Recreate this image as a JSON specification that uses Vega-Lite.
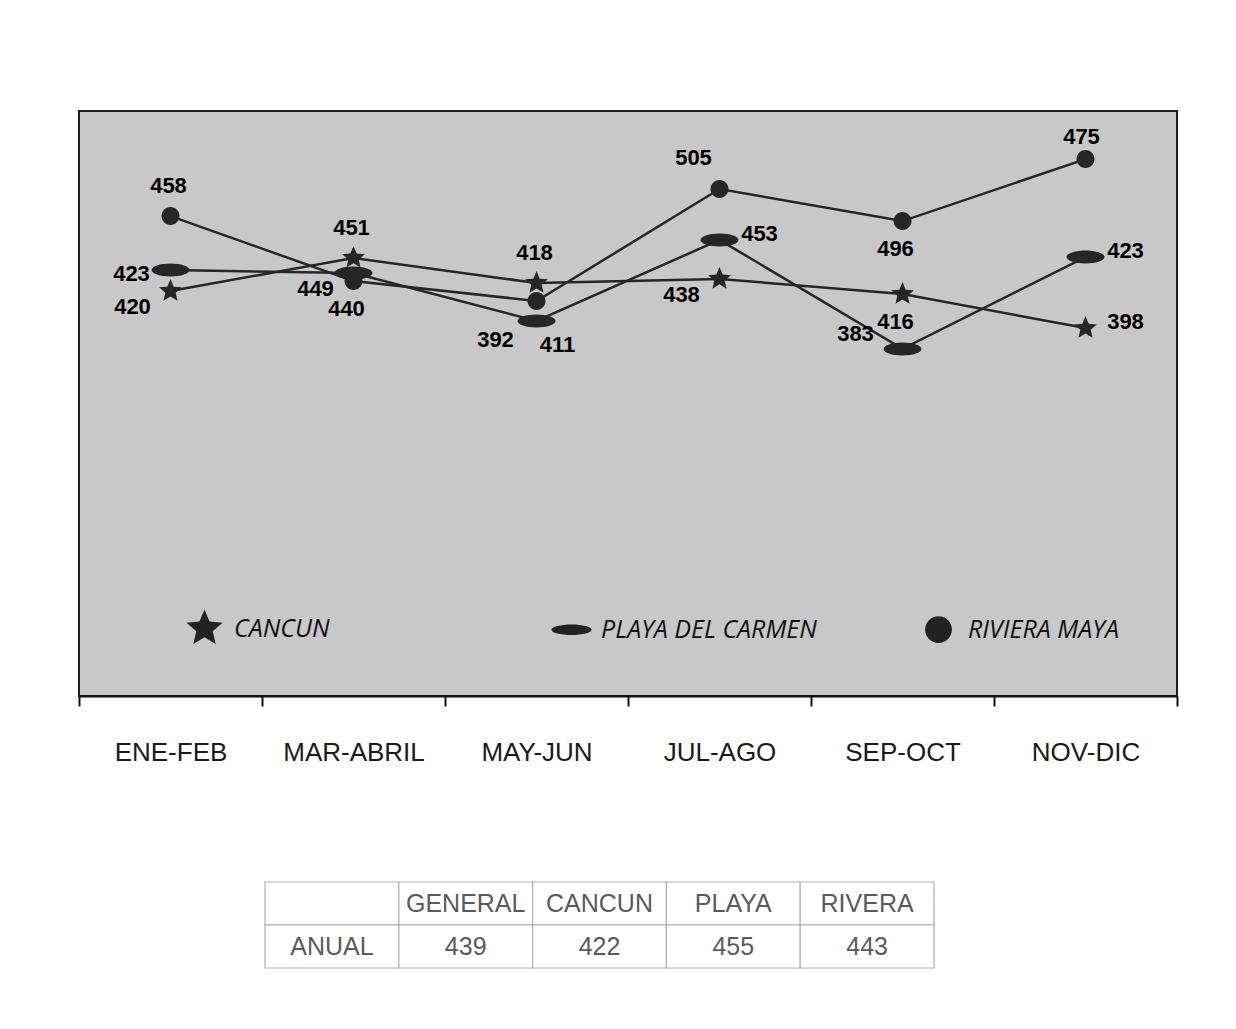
{
  "$schema": "https://vega.github.io/schema/vega-lite/v6.json",
  "background": "white",
  "padding": {"left": 77, "top": 110, "right": 10, "bottom": 10},
  "datasets": {
    "puntos": [
      {"periodo": "ENE-FEB", "orden": 1, "serie": "CANCUN", "valor": 436.9, "etiqueta": "420", "pos": "SW"},
      {"periodo": "MAR-ABRIL", "orden": 2, "serie": "CANCUN", "valor": 452.2, "etiqueta": "451", "pos": "N"},
      {"periodo": "MAY-JUN", "orden": 3, "serie": "CANCUN", "valor": 440.6, "etiqueta": "418", "pos": "N"},
      {"periodo": "JUL-AGO", "orden": 4, "serie": "CANCUN", "valor": 442.5, "etiqueta": "438", "pos": "SW"},
      {"periodo": "SEP-OCT", "orden": 5, "serie": "CANCUN", "valor": 435.5, "etiqueta": "416", "pos": "S"},
      {"periodo": "NOV-DIC", "orden": 6, "serie": "CANCUN", "valor": 419.8, "etiqueta": "398", "pos": "E"},
      {"periodo": "ENE-FEB", "orden": 1, "serie": "PLAYA DEL CARMEN", "valor": 446.6, "etiqueta": "423", "pos": "W"},
      {"periodo": "MAR-ABRIL", "orden": 2, "serie": "PLAYA DEL CARMEN", "valor": 445.2, "etiqueta": "449", "pos": "SW"},
      {"periodo": "MAY-JUN", "orden": 3, "serie": "PLAYA DEL CARMEN", "valor": 423.1, "etiqueta": "411", "pos": "SE"},
      {"periodo": "JUL-AGO", "orden": 4, "serie": "PLAYA DEL CARMEN", "valor": 460.5, "etiqueta": "453", "pos": "E"},
      {"periodo": "SEP-OCT", "orden": 5, "serie": "PLAYA DEL CARMEN", "valor": 410.2, "etiqueta": "383", "pos": "WNW"},
      {"periodo": "NOV-DIC", "orden": 6, "serie": "PLAYA DEL CARMEN", "valor": 452.6, "etiqueta": "423", "pos": "E"},
      {"periodo": "ENE-FEB", "orden": 1, "serie": "RIVIERA MAYA", "valor": 471.5, "etiqueta": "458", "pos": "N"},
      {"periodo": "MAR-ABRIL", "orden": 2, "serie": "RIVIERA MAYA", "valor": 441.5, "etiqueta": "440", "pos": "S"},
      {"periodo": "MAY-JUN", "orden": 3, "serie": "RIVIERA MAYA", "valor": 432.3, "etiqueta": "392", "pos": "SSW"},
      {"periodo": "JUL-AGO", "orden": 4, "serie": "RIVIERA MAYA", "valor": 484.0, "etiqueta": "505", "pos": "NW"},
      {"periodo": "SEP-OCT", "orden": 5, "serie": "RIVIERA MAYA", "valor": 469.2, "etiqueta": "496", "pos": "S"},
      {"periodo": "NOV-DIC", "orden": 6, "serie": "RIVIERA MAYA", "valor": 497.8, "etiqueta": "475", "pos": "NN"}
    ],
    "tabla": [
      {"fila": "encabezado", "col": "fila", "texto": ""},
      {"fila": "encabezado", "col": "GENERAL", "texto": "GENERAL"},
      {"fila": "encabezado", "col": "CANCUN", "texto": "CANCUN"},
      {"fila": "encabezado", "col": "PLAYA", "texto": "PLAYA"},
      {"fila": "encabezado", "col": "RIVERA", "texto": "RIVERA"},
      {"fila": "ANUAL", "col": "fila", "texto": "ANUAL"},
      {"fila": "ANUAL", "col": "GENERAL", "texto": "439"},
      {"fila": "ANUAL", "col": "CANCUN", "texto": "422"},
      {"fila": "ANUAL", "col": "PLAYA", "texto": "455"},
      {"fila": "ANUAL", "col": "RIVERA", "texto": "443"}
    ]
  },
  "spacing": 115,
  "vconcat": [
    {
      "width": 1098,
      "height": 585,
      "view": {"fill": "#c8c8c8", "stroke": "#1e1e1e", "strokeWidth": 2},
      "data": {"name": "puntos"},
      "encoding": {
        "x": {
          "field": "periodo",
          "type": "ordinal",
          "sort": ["ENE-FEB", "MAR-ABRIL", "MAY-JUN", "JUL-AGO", "SEP-OCT", "NOV-DIC"],
          "scale": {"type": "band", "paddingInner": 0, "paddingOuter": 0},
          "axis": {
            "title": null,
            "labelAngle": 0,
            "labelFont": "Liberation Sans",
            "labelFontSize": 26,
            "labelColor": "#1a1a1a",
            "labelPadding": 33,
            "tickBand": "extent",
            "tickSize": 10,
            "tickWidth": 2,
            "tickColor": "#111111",
            "domainColor": "#111111",
            "domainWidth": 2,
            "grid": false
          }
        },
        "y": {
          "field": "valor",
          "type": "quantitative",
          "scale": {"domain": [250, 520], "nice": false, "zero": false},
          "axis": null
        }
      },
      "layer": [
        {
          "mark": {"type": "line", "color": "#262626", "strokeWidth": 2.5},
          "encoding": {"detail": {"field": "serie"}, "order": {"field": "orden"}}
        },
        {
          "mark": {"type": "point", "filled": true, "size": 400, "opacity": 1, "color": "#262626"},
          "encoding": {
            "shape": {
              "field": "serie",
              "type": "nominal",
              "scale": {
                "domain": ["CANCUN", "PLAYA DEL CARMEN", "RIVIERA MAYA"],
                "range": [
                  "M0,-1.2L0.32,-0.44L1.141,-0.371L0.519,0.169L0.705,0.971L0,0.545L-0.705,0.971L-0.519,0.169L-1.141,-0.371L-0.32,-0.44Z",
                  "M-1.9,0A1.9,0.65 0 1,1 1.9,0A1.9,0.65 0 1,1 -1.9,0Z",
                  "M-0.9,0A0.9,0.9 0 1,1 0.9,0A0.9,0.9 0 1,1 -0.9,0Z"
                ]
              },
              "legend": null
            }
          }
        },
        {
          "mark": {"type": "point", "filled": true, "size": 400, "opacity": 0, "color": "#222222"},
          "encoding": {
            "shape": {
              "field": "serie",
              "type": "nominal",
              "scale": {
                "domain": ["CANCUN", "PLAYA DEL CARMEN", "RIVIERA MAYA"],
                "range": [
                  "M0,-1.7L0.453,-0.624L1.617,-0.525L0.735,0.239L0.999,1.375L0,0.773L-0.999,1.375L-0.735,0.239L-1.617,-0.525L-0.453,-0.624Z",
                  "M-1.8,0A1.8,0.47 0 1,1 1.8,0A1.8,0.47 0 1,1 -1.8,0Z",
                  "M-1.2,0A1.2,1.2 0 1,1 1.2,0A1.2,1.2 0 1,1 -1.2,0Z"
                ]
              },
              "legend": {
                "title": null,
                "orient": "none",
                "legendX": 113,
                "legendY": 505,
                "direction": "horizontal",
                "columns": 3,
                "gridAlign": "all",
                "columnPadding": 101,
                "symbolSize": 500,
                "symbolFillColor": "#222222",
                "symbolStrokeColor": "#222222",
                "symbolStrokeWidth": 0,
                "symbolOpacity": 1,
                "labelFont": "Open Sans",
                "labelFontStyle": "italic",
                "labelFontSize": 25,
                "labelColor": "#111111",
                "labelOffset": 17,
                "labelLimit": 400
              }
            }
          }
        },
        {"transform": [{"filter": "datum.pos === 'N'"}], "mark": {"type": "text", "style": "lbl", "dx": -2, "dy": -30}, "encoding": {"text": {"field": "etiqueta"}}},
        {"transform": [{"filter": "datum.pos === 'NN'"}], "mark": {"type": "text", "style": "lbl", "dx": -4, "dy": -22}, "encoding": {"text": {"field": "etiqueta"}}},
        {"transform": [{"filter": "datum.pos === 'NW'"}], "mark": {"type": "text", "style": "lbl", "dx": -26, "dy": -31}, "encoding": {"text": {"field": "etiqueta"}}},
        {"transform": [{"filter": "datum.pos === 'W'"}], "mark": {"type": "text", "style": "lbl", "dx": -39, "dy": 4}, "encoding": {"text": {"field": "etiqueta"}}},
        {"transform": [{"filter": "datum.pos === 'SW'"}], "mark": {"type": "text", "style": "lbl", "dx": -38, "dy": 16}, "encoding": {"text": {"field": "etiqueta"}}},
        {"transform": [{"filter": "datum.pos === 'S'"}], "mark": {"type": "text", "style": "lbl", "dx": -7, "dy": 28}, "encoding": {"text": {"field": "etiqueta"}}},
        {"transform": [{"filter": "datum.pos === 'SE'"}], "mark": {"type": "text", "style": "lbl", "dx": 21, "dy": 24}, "encoding": {"text": {"field": "etiqueta"}}},
        {"transform": [{"filter": "datum.pos === 'E'"}], "mark": {"type": "text", "style": "lbl", "dx": 40, "dy": -6}, "encoding": {"text": {"field": "etiqueta"}}},
        {"transform": [{"filter": "datum.pos === 'WNW'"}], "mark": {"type": "text", "style": "lbl", "dx": -47, "dy": -15}, "encoding": {"text": {"field": "etiqueta"}}},
        {"transform": [{"filter": "datum.pos === 'SSW'"}], "mark": {"type": "text", "style": "lbl", "dx": -41, "dy": 39}, "encoding": {"text": {"field": "etiqueta"}}}
      ],
      "resolve": {"scale": {"shape": "independent"}, "legend": {"shape": "independent"}}
    },
    {
      "width": 1098,
      "height": 86,
      "view": {"stroke": null},
      "data": {"name": "tabla"},
      "encoding": {
        "x": {
          "field": "col",
          "type": "nominal",
          "sort": ["fila", "GENERAL", "CANCUN", "PLAYA", "RIVERA"],
          "scale": {"type": "band", "range": [186, 855], "paddingInner": 0, "paddingOuter": 0},
          "axis": null
        },
        "y": {
          "field": "fila",
          "type": "nominal",
          "sort": ["encabezado", "ANUAL"],
          "scale": {"type": "band", "paddingInner": 0, "paddingOuter": 0},
          "axis": null
        }
      },
      "layer": [
        {"mark": {"type": "rect", "fill": "white", "stroke": "#b0b0b0", "strokeWidth": 1.2}},
        {"mark": {"type": "text", "font": "Liberation Sans", "fontSize": 25, "color": "#5a5a5a"}, "encoding": {"text": {"field": "texto"}}}
      ]
    }
  ],
  "config": {
    "style": {
      "lbl": {"font": "Liberation Sans", "fontWeight": "bold", "fontSize": 22, "fill": "#2a2a2a", "align": "center", "baseline": "middle"}
    }
  }
}
